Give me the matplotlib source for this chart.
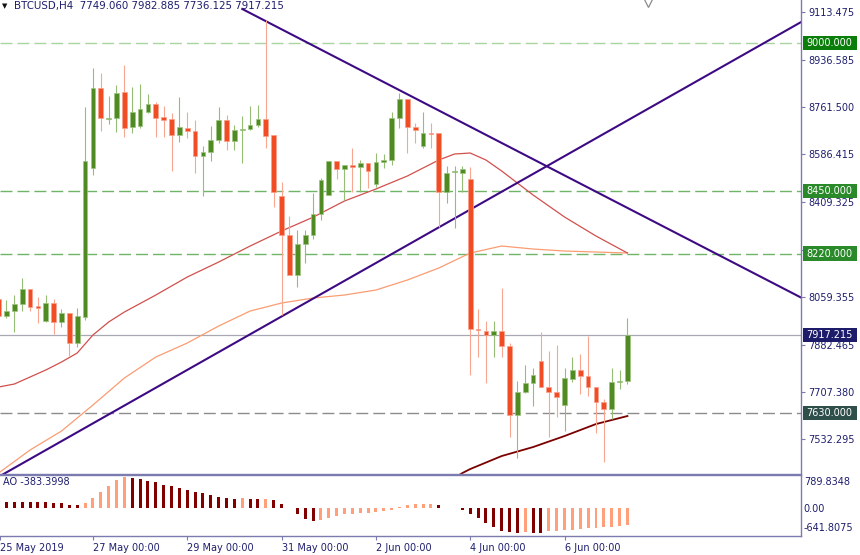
import numpy as np
import matplotlib.pyplot as plt
from matplotlib.patches import Rectangle

# BTCUSD H4 candles, index 0 = 25 May 2019 00:00
opens = [8052, 7989, 8007, 8033, 8089, 8026, 7970, 8037, 7966, 7999,
         7889, 7985, 8536, 8832, 8717, 8721, 8818, 8688, 8692, 8744,
         8773, 8725, 8718, 8658, 8684, 8673, 8581, 8596, 8640, 8714,
         8636, 8677, 8681, 8695, 8718, 8658, 8433, 8288, 8140, 8255,
         8288, 8366, 8436, 8562, 8533, 8547, 8540, 8555, 8477, 8559,
         8566, 8721, 8792, 8688, 8618, 8666, 8666, 8448, 8522, 8518,
         8496, 7941, 7933, 7918, 7933, 7878, 7622, 7708, 7741, 7822,
         7726, 7708, 7659, 7756, 7789, 7767, 7726, 7671, 7645, 7745,
         7749.060]
highs = [8066, 8048, 8066, 8129, 8089, 8059, 8066, 8052, 8015, 7999,
         8018, 8762, 8906, 8888, 8803, 8843, 8917, 8836, 8847, 8810,
         8781, 8766, 8740, 8799, 8744, 8714, 8618, 8692, 8762, 8732,
         8695, 8729, 8766, 8769, 9084, 8658, 8485, 8359, 8307, 8307,
         8444, 8499, 8562, 8562, 8547, 8610, 8566, 8555, 8592, 8588,
         8744, 8814, 8792, 8703, 8744, 8703, 8666, 8544, 8544, 8544,
         8540, 8015, 7970, 7970, 8092, 7889, 7748, 7807, 7796, 7930,
         7859, 7881, 7796, 7837, 7848, 7915, 7726, 7682, 7796, 7789,
         7982.885]
lows = [7974, 7981, 7929, 8007, 8007, 7963, 7966, 7922, 7948, 7841,
        7874, 7974, 8510, 8673, 8699, 8669, 8651, 8666, 8684, 8740,
        8651, 8651, 8525, 8633, 8647, 8518, 8433, 8562, 8629, 8603,
        8603, 8555, 8677, 8688, 8610, 8392, 7992, 8140, 8096, 8185,
        8274, 8344, 8436, 8496, 8418, 8448, 8448, 8462, 8466, 8536,
        8547, 8684, 8592, 8629, 8610, 8610, 8318, 8407, 8314, 8448,
        7770, 7837, 7741, 7837, 7837, 7541, 7463, 7704, 7656, 7726,
        7541, 7614, 7563, 7745, 7700, 7693, 7556, 7449, 7608, 7719,
        7736.125]
closes = [7989, 8007, 8033, 8089, 8022, 8018, 8037, 7966, 7999, 7889,
          7989, 8562, 8832, 8721, 8721, 8814, 8684, 8744, 8755, 8773,
          8721, 8714, 8658, 8688, 8673, 8581, 8596, 8640, 8714, 8636,
          8677, 8681, 8695, 8718, 8655, 8448, 8288, 8140, 8255, 8288,
          8366, 8492, 8562, 8533, 8547, 8540, 8555, 8525, 8559, 8566,
          8721, 8792, 8688, 8677, 8666, 8662, 8448, 8518, 8525, 8533,
          7941, 7937, 7918, 7933, 7878, 7622, 7708, 7741, 7770, 7726,
          7708, 7689, 7759, 7789, 7767, 7726, 7671, 7645, 7745, 7748,
          7917.215]

# Awesome Oscillator
ao = [165, 160, 155, 150, 148, 146, 144, 136, 119, 85,
      68, 128, 256, 409, 571, 716, 789.8348, 767, 733, 699,
      656, 597, 563, 520, 469, 401, 375, 332, 290, 256,
      230, 250, 240, 218, 225, 200, 110, -10, -145, -290,
      -333, -298, -247, -196, -162, -145, -128, -119, -94, -77,
      -51, 20, 68, 94, 111, 115, 77, 10, 5, -60,
      -145, -247, -375, -478, -589, -623, -641.8075, -606, -631, -635,
      -589, -580, -570, -563, -546, -520, -503, -495, -478, -461,
      -435]

# moving averages (bar index, value)
ma_red_idx = [0, 2, 4, 6, 8, 10, 12, 14, 16, 20, 24, 28, 32, 36, 40, 44,
              48, 52, 56, 58, 60, 62, 64, 68, 72, 76, 80]
ma_red = [7726.0, 7737.1, 7763.0, 7788.9, 7818.5, 7851.8, 7918.4, 7966.5,
          8003.5, 8066.4, 8133.0, 8188.5, 8247.7, 8303.2, 8354.2, 8414.2,
          8458.6, 8506.7, 8565.9, 8588.1, 8591.8, 8565.9, 8525.2, 8436.4,
          8355.0, 8284.7, 8221.8]
ma_orange_idx = [0, 4, 8, 12, 16, 20, 24, 28, 32, 36, 40, 44, 48, 52, 56,
                 60, 64, 68, 72, 76, 80]
ma_orange = [7407.8, 7492.9, 7563.2, 7659.4, 7759.3, 7837.0, 7888.8, 7951.7,
             8007.2, 8036.8, 8055.3, 8066.4, 8084.9, 8121.9, 8166.3, 8221.8,
             8247.7, 8236.6, 8229.2, 8225.5, 8221.8]
ma_dark_idx = [58, 59, 60, 64, 68, 72, 76, 80]
ma_dark = [7389.3, 7407.8, 7422.6, 7470.7, 7504.0, 7544.7, 7589.1, 7618.7]

# trend lines (bar index, price)
trend_up_x = [0.18, 102.1]
trend_up_y = [7396.7, 9076.5]
trend_down_x = [31.0, 102.2]
trend_down_y = [9124.6, 8055.3]

# horizontal levels
levels = [9000.0, 8450.0, 8220.0, 7630.0]
level_line_colors = ['#a9d6a0', '#6fb467', '#6fb467', '#8c8c8c']
level_box_colors = ['#0b7d0b', '#2a8a2a', '#2a8a2a', '#2f4f4a']

price_ticks = [9113.475, 8936.585, 8761.500, 8586.415, 8409.325,
               8234.440, 8059.355, 7882.465, 7707.380, 7532.295]
ao_ticks = [789.8348, 0.0, -641.8075]
ao_tick_labels = ['789.8348', '0.00', '-641.8075']

date_idx = [0, 12, 24, 36, 48, 60, 72]
date_labels = ['25 May 2019', '27 May 00:00', '29 May 00:00', '31 May 00:00',
               '2 Jun 00:00', '4 Jun 00:00', '6 Jun 00:00']

plt.rcParams['font.family'] = ['DejaVu Sans']
plt.rcParams['font.size'] = 7
plt.rcParams['lines.scale_dashes'] = False

axis_col = '#7b7bb0'
text_col = '#1e1e6e'
xlim = (0.18, 102.08)

fig = plt.figure(figsize=(8.6, 5.55), dpi=100)
ax = fig.add_axes([0, 1 - 473.5 / 555, 801 / 860, 473.5 / 555])
ax2 = fig.add_axes([0, 1 - 536 / 555, 801 / 860, 61 / 555])

x = np.arange(len(closes))
o, h, l, c = map(np.array, (opens, highs, lows, closes))
up = c >= o
dn = ~up

# levels and price line
dash = (0, (8.6, 3.6))
for lv, lc in zip(levels, level_line_colors):
    ax.axhline(lv, color=lc, lw=1.0, linestyle=dash, zorder=1)
ax.axhline(closes[-1], color='#a9a9b6', lw=0.9, zorder=1)

# moving averages and trend lines
ax.plot(ma_orange_idx, ma_orange, color='#fa9c72', lw=0.9, zorder=2)
ax.plot(ma_red_idx, ma_red, color='#d0504c', lw=0.9, zorder=2)
ax.plot(ma_dark_idx, ma_dark, color='#7a0000', lw=1.3, zorder=2)
ax.plot(trend_up_x, trend_up_y, color='#3d0a84', lw=1.5, zorder=2)
ax.plot(trend_down_x, trend_down_y, color='#3d0a84', lw=1.5, zorder=2)

# candles
ax.vlines(x[up], l[up], h[up], color='#95bd76', lw=0.8, zorder=3)
ax.vlines(x[dn], l[dn], h[dn], color='#f8a690', lw=0.8, zorder=3)
ax.bar(x[up], c[up] - o[up], bottom=o[up], width=0.6, color='#4f8a23',
       edgecolor='#9cc47f', linewidth=0.5, zorder=4)
ax.bar(x[dn], o[dn] - c[dn], bottom=c[dn], width=0.6, color='#f24c24',
       edgecolor='#f9a08a', linewidth=0.5, zorder=4)

ax.set_xlim(*xlim)
ax.set_ylim(7406.1, 9157.9)
ax.set_xticks([])
ax.yaxis.tick_right()
ax.set_yticks(price_ticks, labels=[f'{v:.3f}' for v in price_ticks])
ax.tick_params(axis='y', length=3, color=axis_col, labelcolor=text_col,
               labelsize=7, pad=2)
for s in ['left', 'top']:
    ax.spines[s].set_visible(False)
for s in ['right', 'bottom']:
    ax.spines[s].set_color(axis_col)
    ax.spines[s].set_linewidth(1.0)

# coloured price labels on the right scale
box_items = list(zip(levels, level_box_colors)) + [(closes[-1], '#1c1c6a')]
for val, bc in box_items:
    ax.add_patch(Rectangle((1.002, val - 26), 0.068, 52, facecolor=bc,
                           edgecolor='none', transform=ax.get_yaxis_transform(),
                           clip_on=False, zorder=9))
    ax.text(1.0065, val, f'{val:.3f}', color='white', va='center', ha='left',
            fontsize=7, transform=ax.get_yaxis_transform(), clip_on=False,
            zorder=10)

ax.text(0.003, 0.987, '\u25bc', color='#111111', fontsize=5, va='center',
        transform=ax.transAxes)
ax.text(0.018, 0.987, f'BTCUSD,H4  {opens[-1]:.3f} {highs[-1]:.3f} '
        f'{lows[-1]:.3f} {closes[-1]:.3f}', color=text_col, va='center',
        fontsize=7.4, transform=ax.transAxes)
# chart shift marker
ax.plot(0.809, 0.995, marker='v', ms=7, mfc='none', mec='#8a8a8a', mew=0.9,
        transform=ax.transAxes, zorder=5)

# AO histogram: light when rising, dark when falling
ao_cols = ['#800000'] + ['#ffa07a' if ao[i] > ao[i - 1] else '#800000'
                         for i in range(1, len(ao))]
ax2.bar(x, ao, width=0.38, color=ao_cols)
ax2.set_xlim(*xlim)
ax2.set_ylim(-716, 844)
ax2.yaxis.tick_right()
ax2.set_yticks(ao_ticks, labels=ao_tick_labels)
ax2.tick_params(axis='y', length=0, labelcolor=text_col, labelsize=7, pad=2)
lbls = ax2.get_yticklabels()
lbls[0].set_va('top')
lbls[2].set_va('bottom')
ax2.set_xticks([max(i, xlim[0]) for i in date_idx], labels=date_labels)
ax2.tick_params(axis='x', length=3, color=axis_col, labelcolor=text_col,
                labelsize=7, pad=2)
for t in ax2.get_xticklabels():
    t.set_ha('left')
ax2.spines['left'].set_visible(False)
for s in ['right', 'bottom', 'top']:
    ax2.spines[s].set_color(axis_col)
    ax2.spines[s].set_linewidth(1.0)
ax2.text(0.004, 0.885, 'AO -383.3998', color=text_col, va='center',
         transform=ax2.transAxes)

fig.savefig('out.png', dpi=100)
